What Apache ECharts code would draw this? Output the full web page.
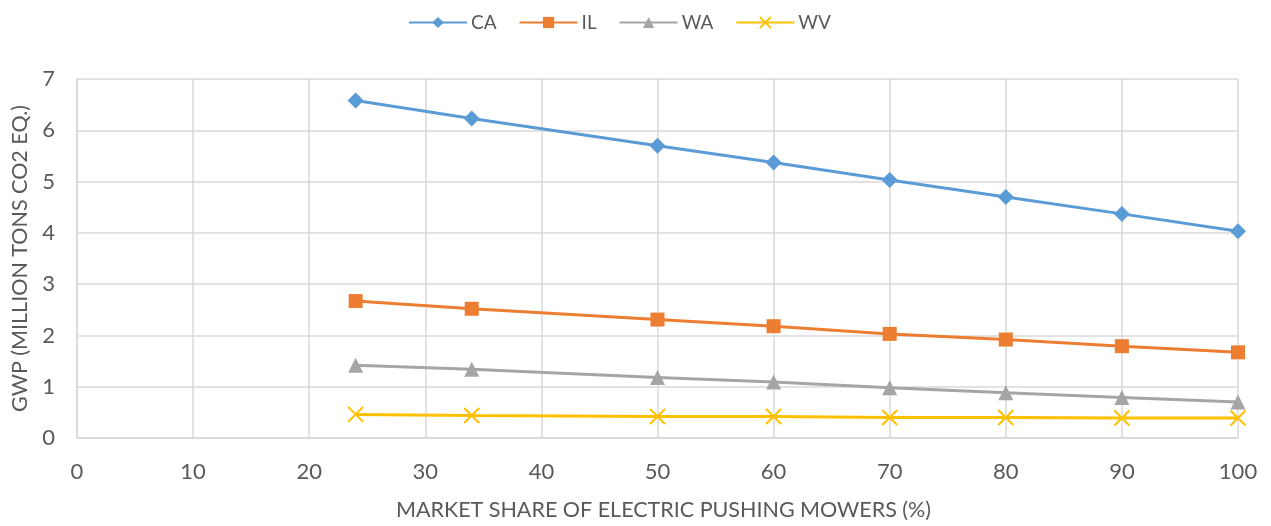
<!DOCTYPE html>
<html><head><meta charset="utf-8">
<script src="https://cdn.jsdelivr.net/npm/echarts@6/dist/echarts.min.js"></script>
<style>html,body{margin:0;padding:0;background:#fff}#c{width:1271px;height:526px}</style>
</head><body><div id="c"></div>
<script>
const xValues = [24, 34, 50, 60, 70, 80, 90, 100];
const seriesNames = ['CA', 'IL', 'WA', 'WV'];
const caValues = [6.58, 6.23, 5.70, 5.37, 5.03, 4.70, 4.37, 4.03];
const ilValues = [2.67, 2.52, 2.31, 2.18, 2.03, 1.92, 1.79, 1.67];
const waValues = [1.42, 1.34, 1.18, 1.09, 0.98, 0.88, 0.79, 0.70];
const wvValues = [0.46, 0.44, 0.42, 0.42, 0.40, 0.40, 0.39, 0.39];

const colors = ['#5B9BD5', '#ED7D31', '#A5A5A5', '#FFC000'];
const font = 'Lato';
const txt = '#595959';
function pairs(v){ return xValues.map((x,i)=>[x, v[i]]); }
const xSym = 'path://M0,0 L10,10 M10,0 L0,10';
const defs = [
  {v: caValues, sym: 'diamond', size: 16},
  {v: ilValues, sym: 'rect', size: 14},
  {v: waValues, sym: 'triangle', size: 15},
  {v: wvValues, sym: xSym, size: 15}
];
const chart = echarts.init(document.getElementById('c'), null, {renderer: 'canvas'});
chart.setOption({
  animation: false,
  color: colors,
  legend: {
    top: 8, left: 403, itemWidth: 58, itemHeight: 14, itemGap: 22,
    textStyle: {color: txt, fontFamily: font, fontSize: 19, padding: [0,0,0,-1]},
    data: seriesNames
  },
  grid: {left: 77, right: 33, top: 79, bottom: 85},
  xAxis: {
    type: 'value', min: 0, max: 100, interval: 10,
    name: 'MARKET SHARE OF ELECTRIC PUSHING MOWERS (%)',
    nameLocation: 'middle', nameGap: 61,
    nameTextStyle: {color: txt, fontFamily: font, fontSize: 21.5, padding: [0, 0, 0, 12]},
    axisLine: {show: true, lineStyle: {color: '#d9d9d9', width: 1.5}},
    axisTick: {show: false},
    axisLabel: {color: txt, fontFamily: font, fontSize: 22, margin: 23},
    splitLine: {show: true, lineStyle: {color: '#d9d9d9', width: 1.5}}
  },
  yAxis: {
    type: 'value', min: 0, max: 7, interval: 1,
    name: 'GWP (MILLION TONS CO2 EQ.)',
    nameLocation: 'middle', nameGap: 43, nameRotate: 90,
    nameTextStyle: {color: txt, fontFamily: font, fontSize: 21.5},
    axisLine: {show: true, lineStyle: {color: '#d9d9d9', width: 1.5}},
    axisTick: {show: false},
    axisLabel: {color: txt, fontFamily: font, fontSize: 22, margin: 22},
    splitLine: {show: true, lineStyle: {color: '#d9d9d9', width: 1.5}}
  },
  series: defs.map((d, i) => ({
    name: seriesNames[i], type: 'line', data: pairs(d.v),
    symbol: d.sym, symbolSize: d.size, showSymbol: true,
    lineStyle: {width: 3, color: colors[i]},
    itemStyle: i === 3 ? {color: 'none', borderColor: colors[i], borderWidth: 2} : {color: colors[i]},
    z: 10 - i
  }))
});
</script></body></html>
